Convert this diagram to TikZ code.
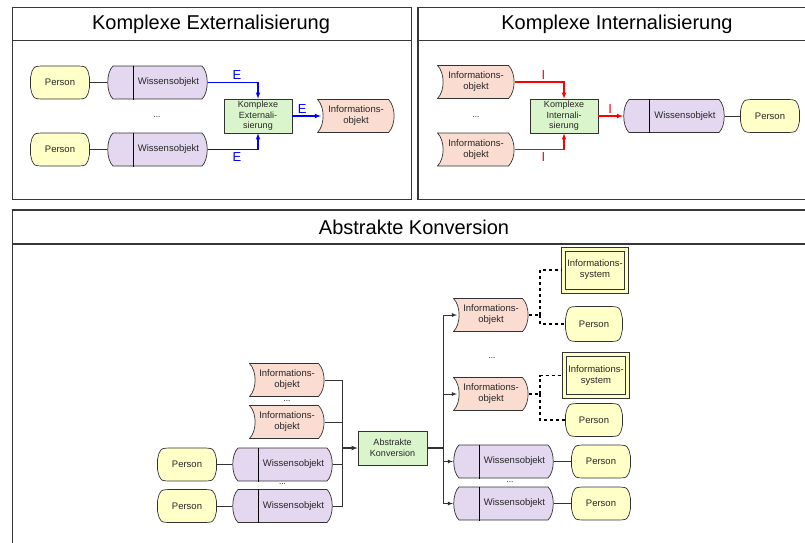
\documentclass[tikz,border=0pt]{standalone}
\usepackage{fontspec}
\setmainfont{Liberation Sans}
\usetikzlibrary{arrows}
\definecolor{perfill}{RGB}{255,255,200}
\definecolor{wisfill}{RGB}{228,216,240}
\definecolor{inffill}{RGB}{250,220,208}
\definecolor{actfill}{RGB}{218,245,204}
\definecolor{linecol}{RGB}{50,50,50}
\definecolor{framecol}{RGB}{55,55,55}
\def\ppb{path picture bounding box}

\begin{document}
\begin{tikzpicture}[x=1pt,y=-1pt,>=latex,
  txt/.style={text=black!85,font=\fontsize{9.5}{11}\selectfont},
  obj/.style={txt,minimum height=34pt,inner sep=0pt,outer sep=0pt},
  person/.style={obj,minimum width=60pt,path picture={
    \draw[fill=perfill,draw=linecol,line width=0.7pt]
      ([xshift=0.5pt,yshift=5pt]\ppb.west) -- ([xshift=0.5pt,yshift=-5pt]\ppb.west)
      .. controls ([xshift=3pt,yshift=0.5pt]\ppb.south west) .. ([xshift=16pt,yshift=0.5pt]\ppb.south west)
      -- ([xshift=-16pt,yshift=0.5pt]\ppb.south east)
      .. controls ([xshift=-3pt,yshift=0.5pt]\ppb.south east) .. ([xshift=-0.5pt,yshift=-5pt]\ppb.east)
      -- ([xshift=-0.5pt,yshift=5pt]\ppb.east)
      .. controls ([xshift=-3pt,yshift=-0.5pt]\ppb.north east) .. ([xshift=-16pt,yshift=-0.5pt]\ppb.north east)
      -- ([xshift=16pt,yshift=-0.5pt]\ppb.north west)
      .. controls ([xshift=3pt,yshift=-0.5pt]\ppb.north west) .. cycle;}},
  wissen/.style={obj,minimum width=101pt,execute at begin node={\hspace*{22pt}},path picture={
    \draw[fill=wisfill,draw=linecol,line width=0.7pt]
      ([xshift=6pt,yshift=-0.5pt]\ppb.north west) -- ([xshift=-6pt,yshift=-0.5pt]\ppb.north east)
      .. controls ([xshift=1pt,yshift=-7pt]\ppb.north east) and ([xshift=1pt,yshift=7pt]\ppb.south east) .. ([xshift=-6pt,yshift=0.5pt]\ppb.south east)
      -- ([xshift=6pt,yshift=0.5pt]\ppb.south west)
      .. controls ([xshift=-1pt,yshift=7pt]\ppb.south west) and ([xshift=-1pt,yshift=-7pt]\ppb.north west) .. cycle;
    \draw[line width=1.1pt] ([xshift=26.5pt]\ppb.north west) -- ([xshift=26.5pt]\ppb.south west);}},
  info/.style={obj,minimum width=76pt,align=center,path picture={
    \draw[fill=inffill,draw=linecol,line width=0.7pt]
      ([xshift=0.5pt,yshift=-0.5pt]\ppb.north west) -- ([xshift=-6.5pt,yshift=-0.5pt]\ppb.north east)
      .. controls ([xshift=1pt,yshift=-8pt]\ppb.north east) and ([xshift=1pt,yshift=8pt]\ppb.south east) .. ([xshift=-6.5pt,yshift=0.5pt]\ppb.south east)
      -- ([xshift=0.5pt,yshift=0.5pt]\ppb.south west)
      .. controls ([xshift=8pt,yshift=8pt]\ppb.south west) and ([xshift=8pt,yshift=-8pt]\ppb.north west) .. cycle;}},
  act/.style={txt,draw=linecol,fill=actfill,line width=0.7pt,minimum width=68pt,minimum height=34pt,
    inner sep=0pt,align=center,font=\fontsize{9}{10.5}\selectfont},
  sys/.style={obj,draw=linecol,fill=perfill,line width=0.7pt,minimum width=67pt,minimum height=46pt,align=center,
    path picture={\draw[linecol,line width=0.7pt] ([xshift=4pt,yshift=-4pt]\ppb.north west) rectangle ([xshift=-4pt,yshift=4pt]\ppb.south east);}},
  panel/.style={draw=framecol,line width=1.2pt},
  title/.style={font=\fontsize{20}{24}\selectfont},
  dots/.style={font=\fontsize{8}{9}\selectfont},
  conn/.style={draw=linecol,line width=0.8pt},
  eflow/.style={draw=blue,line width=1.1pt,->},
  iflow/.style={draw=red,line width=1.1pt,->},
  elbl/.style={text=blue,font=\fontsize{13}{14}\selectfont},
  ilbl/.style={text=red,font=\fontsize{13}{14}\selectfont},
  dashline/.style={draw=black,dashed,line width=1.1pt},
]
\useasboundingbox (0,0) rectangle (805,542);

\draw[panel] (12.5,7.5) rectangle (411.5,199.5);
\draw[panel] (12.5,40.5) -- (411.5,40.5);
\draw[panel] (418,7.5) rectangle (816,199.5);
\draw[panel] (418,40.5) -- (816,40.5);
\draw[panel] (12.5,560) -- (12.5,210) -- (816,210) -- (816,560);
\draw[panel] (12.5,244) -- (816,244);

\node[title] (text) at (211,24) {Komplexe Externalisierung};
\node[title] (tint) at (617,24) {Komplexe Internalisierung};
\node[title] (tabs) at (414,227) {Abstrakte Konversion};

\node[person] (ep1) at (60,82.5) {Person};
\node[wissen] (ew1) at (157.5,82.5) {Wissensobjekt};
\node[dots] (edots) at (157,117) {...};
\node[person] (ep2) at (60,149.5) {Person};
\node[wissen] (ew2) at (157.5,149.5) {Wissensobjekt};
\node[act] (kext) at (258,116) {Komplexe\\Externali-\\sierung};
\node[info,minimum width=78pt] (einf) at (356,116) {Informations-\\objekt};
\draw[conn] (ep1) -- (ew1);
\draw[conn] (ep2) -- (ew2);
\draw[eflow] (ew1.east) -| (kext.north) node[elbl,pos=0.29,above=-1pt] {E};
\draw[eflow] (ew2.east) -| (kext.south) node[elbl,pos=0.29,below=-1pt] {E};
\draw[eflow,shorten >=-4pt] (kext) -- (einf) node[elbl,pos=0.4,above=-1pt] {E};

\node[info,minimum width=78pt] (ii1) at (476,82) {Informations-\\objekt};
\node[dots] (idots) at (476,117) {...};
\node[info,minimum width=78pt] (ii2) at (476,149.5) {Informations-\\objekt};
\node[act] (kint) at (564,116) {Komplexe\\Internali-\\sierung};
\node[wissen,minimum width=102pt] (iw) at (674,116) {Wissensobjekt};
\node[person] (ip) at (770,116) {Person};
\draw[iflow] (ii1.east) -| (kint.north) node[ilbl,pos=0.29,above=-1pt] {I};
\draw[iflow] (ii2.east) -| (kint.south) node[ilbl,pos=0.29,below=-1pt] {I};
\draw[iflow] (kint) -- (iw) node[ilbl,pos=0.48,above=-1pt] {I};
\draw[conn] (iw) -- (ip);

\node[info] (ai1) at (287,380) {Informations-\\objekt};
\node[dots] (adots1) at (287,401) {...};
\node[info] (ai2) at (287,422) {Informations-\\objekt};
\node[wissen] (aw1) at (282.5,464.5) {Wissensobjekt};
\node[dots] (adots2) at (282.5,484.5) {...};
\node[wissen] (aw2) at (282.5,506) {Wissensobjekt};
\node[person] (ap1) at (187,464.5) {Person};
\node[person] (ap2) at (187,506) {Person};
\node[act,minimum width=69pt] (abk) at (392.5,448) {Abstrakte\\Konversion};
\coordinate (ajn) at (342,448);
\draw[conn] (ap1) -- (aw1);
\draw[conn] (ap2) -- (aw2);
\draw[conn] (ai1.east) -| (ajn);
\draw[conn] (ai2.east) -| (ajn);
\draw[conn] (aw1.east) -| (ajn);
\draw[conn] (aw2.east) -| (ajn);
\draw[conn,line width=1.1pt,->] (ajn) -- (abk);

\coordinate (asp) at (443,448);
\node[info] (ao1) at (491,315) {Informations-\\objekt};
\node[dots] (adots3) at (492,358) {...};
\node[info] (ao2) at (491,394) {Informations-\\objekt};
\node[wissen] (aw3) at (503.5,461.5) {Wissensobjekt};
\node[dots] (adots4) at (510,482) {...};
\node[wissen] (aw4) at (503.5,503.5) {Wissensobjekt};
\node[person] (ap3) at (601,461.5) {Person};
\node[person] (ap4) at (601,503.5) {Person};
\node[sys] (as1) at (595,270) {Informations-\\system};
\node[person,minimum width=58pt,minimum height=36pt] (ap5) at (594,324) {Person};
\node[sys] (as2) at (596,375.5) {Informations-\\system};
\node[person,minimum width=58pt] (ap6) at (594,420) {Person};
\draw[conn,line width=1.4pt] (abk) -- (asp);
\draw[conn,->,shorten >=-4pt] (asp) |- (ao1);
\draw[conn,->,shorten >=-4pt] (asp) |- (ao2);
\draw[conn,->] (asp) |- (aw3);
\draw[conn,->] (asp) |- (aw4);
\draw[conn] (aw3) -- (ap3);
\draw[conn] (aw4) -- (ap4);
\coordinate (ad1) at (540,315);
\coordinate (ad2) at (540,394);
\draw[dashline,line width=1.6pt] (ao1) -- (ad1);
\draw[dashline] (ad1) |- (as1);
\draw[dashline] (ad1) |- (ap5);
\draw[dashline,line width=1.6pt] (ao2) -- (ad2);
\draw[dashline] (ad2) |- (as2);
\draw[dashline] (ad2) |- (ap6);
\end{tikzpicture}
\end{document}
